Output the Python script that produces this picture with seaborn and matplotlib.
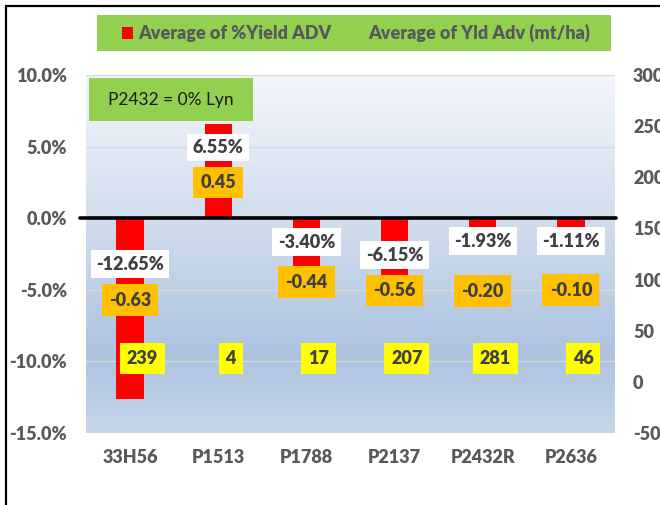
import numpy as np
import matplotlib
matplotlib.use("Agg")
import matplotlib.pyplot as plt
from matplotlib.colors import LinearSegmentedColormap
from matplotlib.patches import Rectangle
import seaborn as sns

# data
varieties = ["33H56", "P1513", "P1788", "P2137", "P2432R", "P2636"]
pct_yield_adv = [-12.65, 6.55, -3.40, -6.15, -1.93, -1.11]
yld_adv_mtha = [-0.63, 0.45, -0.44, -0.56, -0.20, -0.10]
n_trials = [239, 4, 17, 207, 281, 46]
left_ticks = [-15, -10, -5, 0, 5, 10]
right_ticks = [-50, 0, 50, 100, 150, 200, 250, 300]

# where the data labels were dragged to (in % axis units)
pct_label_y = [-3.22, 4.94, -1.68, -2.59, -1.61, -1.61]
yld_label_y = [-5.72, 2.51, -4.46, -5.05, -5.09, -5.02]
count_label_y = -9.78

sns.set_style("white")
plt.rcParams["font.family"] = ["Lato", "DejaVu Sans"]

GREY = "#595959"
DARK = "#404040"
W = 800  # heavier than plain bold, closer to Calibri bold

fig = plt.figure(figsize=(6.6, 5.05), dpi=100)
ax = fig.add_axes([86 / 660, 1 - 433 / 505, 529 / 660, 358 / 505])

# gradient plot area
cmap = LinearSegmentedColormap.from_list(
    "bg", [(0, "#f3f6fb"), (0.45, "#cddaec"), (0.78, "#adc3df"), (1, "#c6d5ea")])
grad = np.linspace(0, 1, 256).reshape(-1, 1)
ax.imshow(grad, extent=[0, 1, 0, 1], transform=ax.transAxes, cmap=cmap,
          aspect="auto", zorder=0)

sns.barplot(x=varieties, y=pct_yield_adv, color="#ff0000", saturation=1,
            width=0.31, errorbar=None, ax=ax, zorder=2, linewidth=0,
            edgecolor="none")

ax.set_xlim(-0.5, 5.5)
ax.set_ylim(-15, 10)
ax.set_yticks(left_ticks)
ax.set_yticklabels([f"{t:.1f}%" for t in left_ticks])
ax.grid(axis="y", color="#d9d9d9", lw=1)
ax.set_axisbelow(True)
for s in ax.spines.values():
    s.set_visible(False)
ax.tick_params(axis="both", length=0, labelsize=13, labelcolor=GREY)
ax.tick_params(axis="y", pad=13.5)
ax.tick_params(axis="x", pad=11.5)
for lab in ax.get_xticklabels() + ax.get_yticklabels():
    lab.set_fontweight(W)
ax.set_xlabel("")
ax.set_ylabel("")

# zero line
ax.plot([-0.568, 5.51], [0, 0], color="black", lw=2.6, clip_on=False, zorder=3)

# data labels
for i in range(len(varieties)):
    ax.text(i, pct_label_y[i], f"{pct_yield_adv[i]:.2f}%", ha="center", va="center",
            fontsize=13, fontweight=W, color=DARK, zorder=5,
            bbox=dict(boxstyle="square,pad=0.3", fc="white", ec="none"))
    ax.text(i, yld_label_y[i], f"{yld_adv_mtha[i]:.2f}", ha="center", va="center",
            fontsize=13, fontweight=W, color=DARK, zorder=5,
            bbox=dict(boxstyle="square,pad=0.4", fc="#ffc000", ec="none"))
    ax.text(i + 0.14, count_label_y, f"{n_trials[i]}", ha="center", va="center",
            fontsize=13, fontweight=W, color=DARK, zorder=5,
            bbox=dict(boxstyle="square,pad=0.38", fc="#ffff00", ec="none"))

# note box
fig.patches.append(Rectangle((89 / 660, 1 - 121 / 505), 164 / 660, 43 / 505,
                             transform=fig.transFigure, fc="#92d050", ec="none", zorder=4))
fig.text(171 / 660, 1 - 99.5 / 505, "P2432 = 0% Lyn", ha="center", va="center",
         fontsize=12.5, color="#1a1a1a", zorder=6)

# secondary axis
ax2 = ax.twinx()
ax2.set_ylim(-50, 300)
ax2.set_yticks(right_ticks)
ax2.set_yticklabels([str(t) for t in right_ticks])
for s in ax2.spines.values():
    s.set_visible(False)
ax2.tick_params(axis="y", length=0, labelsize=13, labelcolor=GREY, pad=13)
for lab in ax2.get_yticklabels():
    lab.set_fontweight(W)
ax2.grid(False)

# legend box
fig.patches.append(Rectangle((97 / 660, 1 - 51 / 505), 514 / 660, 36 / 505,
                             transform=fig.transFigure, fc="#92d050", ec="none"))
fig.patches.append(Rectangle((122 / 660, 1 - 38.5 / 505), 11 / 660, 11 / 505,
                             transform=fig.transFigure, fc="#ff0000", ec="none"))
fig.text(138 / 660, 1 - 33 / 505, "Average of %Yield ADV", ha="left", va="center",
         fontsize=13, fontweight=W, color=GREY)
fig.text(368 / 660, 1 - 33 / 505, "Average of Yld Adv (mt/ha)", ha="left", va="center",
         fontsize=13, fontweight=W, color=GREY)

# chart outer border (right/bottom fall outside the picture)
fig.patches.append(Rectangle((6 / 660, -0.05), 1.0, 1.05 - 6 / 505,
                             transform=fig.transFigure, fill=False, ec="black", lw=1.6))

fig.savefig("out.png", dpi=100)
